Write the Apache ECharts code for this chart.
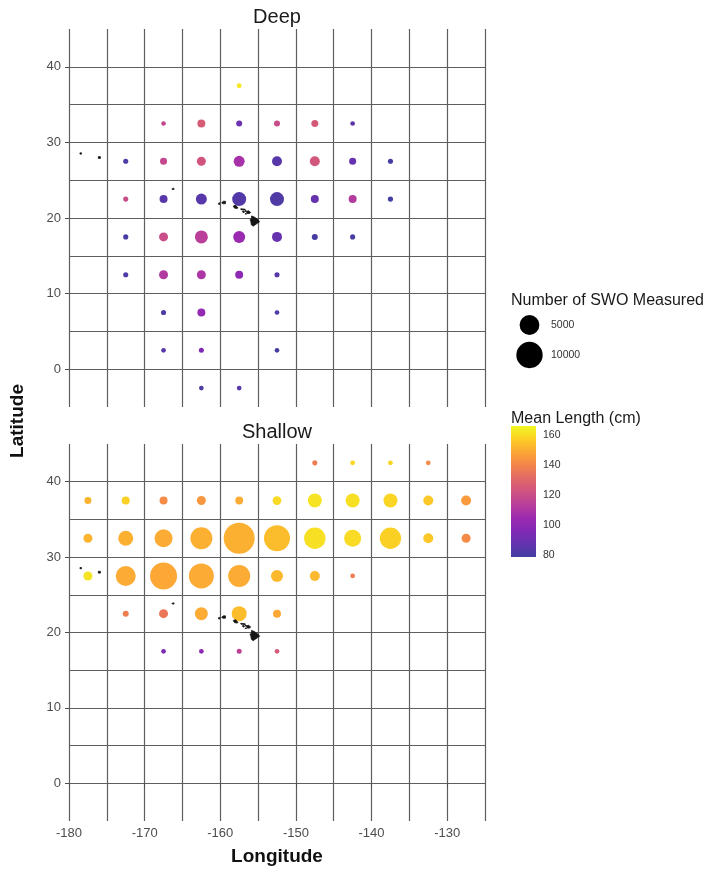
<!DOCTYPE html>
<html>
<head>
<meta charset="utf-8">
<style>
  html, body { margin: 0; padding: 0; background: #ffffff; }
  #chart { width: 709px; height: 873px; }
</style>
<script src="https://cdn.jsdelivr.net/npm/echarts@6/dist/echarts.min.js"></script>
</head>
<body>
<div id="chart"></div>
<script>
// Swordfish (SWO) size data by 5-degree cell: [longitude, latitude, number measured, mean length cm]
const deepCells = [
  [-157.5, 37.5, 15, 163],
  [-167.5, 32.5, 8, 118], [-162.5, 32.5, 320, 126], [-157.5, 32.5, 80, 90], [-152.5, 32.5, 80, 120],
  [-147.5, 32.5, 180, 125], [-142.5, 32.5, 10, 85],
  [-172.5, 27.5, 25, 82], [-167.5, 27.5, 180, 118], [-162.5, 27.5, 500, 123], [-157.5, 27.5, 980, 108],
  [-152.5, 27.5, 720, 84], [-147.5, 27.5, 720, 124], [-142.5, 27.5, 180, 88], [-137.5, 27.5, 25, 80],
  [-172.5, 22.5, 25, 120], [-167.5, 22.5, 320, 84], [-162.5, 22.5, 980, 84], [-157.5, 22.5, 2000, 83],
  [-152.5, 22.5, 2000, 82], [-147.5, 22.5, 320, 88], [-142.5, 22.5, 320, 112], [-137.5, 22.5, 30, 79],
  [-172.5, 17.5, 25, 80], [-167.5, 17.5, 500, 120], [-162.5, 17.5, 1620, 114], [-157.5, 17.5, 1280, 104],
  [-152.5, 17.5, 720, 88], [-147.5, 17.5, 80, 80], [-142.5, 17.5, 25, 80],
  [-172.5, 12.5, 25, 82], [-167.5, 12.5, 500, 112], [-162.5, 12.5, 500, 110], [-157.5, 12.5, 320, 100],
  [-152.5, 12.5, 25, 84],
  [-167.5, 7.5, 25, 82], [-162.5, 7.5, 320, 102], [-152.5, 7.5, 10, 82],
  [-167.5, 2.5, 10, 84], [-162.5, 2.5, 20, 96], [-152.5, 2.5, 10, 80],
  [-162.5, -2.5, 10, 82], [-157.5, -2.5, 10, 84]
];

const shallowCells = [
  [-147.5, 42.5, 25, 138], [-142.5, 42.5, 15, 159], [-137.5, 42.5, 15, 159], [-132.5, 42.5, 10, 142],
  [-177.5, 37.5, 180, 152], [-172.5, 37.5, 320, 158], [-167.5, 37.5, 320, 142], [-162.5, 37.5, 500, 145],
  [-157.5, 37.5, 300, 150], [-152.5, 37.5, 450, 160], [-147.5, 37.5, 2000, 162], [-142.5, 37.5, 2000, 161],
  [-137.5, 37.5, 2000, 159], [-132.5, 37.5, 720, 156], [-127.5, 37.5, 720, 146],
  [-177.5, 32.5, 500, 152], [-172.5, 32.5, 2420, 151], [-167.5, 32.5, 3930, 150], [-162.5, 32.5, 6490, 151],
  [-157.5, 32.5, 14600, 151], [-152.5, 32.5, 9700, 154], [-147.5, 32.5, 6100, 161], [-142.5, 32.5, 3390, 160],
  [-137.5, 32.5, 6000, 158], [-132.5, 32.5, 720, 156], [-127.5, 32.5, 500, 142],
  [-177.5, 27.5, 500, 162], [-172.5, 27.5, 5130, 150], [-167.5, 27.5, 10600, 149], [-162.5, 27.5, 8830, 150],
  [-157.5, 27.5, 6490, 150], [-152.5, 27.5, 1280, 153], [-147.5, 27.5, 720, 153], [-142.5, 27.5, 10, 138],
  [-172.5, 22.5, 80, 138], [-167.5, 22.5, 500, 136], [-162.5, 22.5, 1620, 150], [-157.5, 22.5, 2420, 154],
  [-152.5, 22.5, 320, 149],
  [-167.5, 17.5, 10, 95], [-162.5, 17.5, 10, 100], [-157.5, 17.5, 20, 115], [-152.5, 17.5, 10, 125]
];

// Hawaiian island outlines (lon, lat)
const islands = [
  [[-155.88, 20.27], [-155.55, 20.15], [-155.08, 19.85], [-154.8, 19.5], [-155.1, 19.3], [-155.65, 18.92],
   [-155.9, 19.1], [-155.95, 19.5], [-156.06, 19.75], [-155.85, 20.0]],
  [[-156.68, 21.02], [-156.48, 20.9], [-156.25, 20.95], [-155.98, 20.72], [-156.18, 20.58], [-156.45, 20.6],
   [-156.5, 20.78], [-156.68, 20.85]],
  [[-156.7, 20.6], [-156.55, 20.6], [-156.55, 20.5], [-156.7, 20.52]],
  [[-157.05, 20.92], [-156.85, 20.92], [-156.82, 20.75], [-157.0, 20.73]],
  [[-157.3, 21.22], [-156.9, 21.18], [-156.71, 21.16], [-156.72, 21.05], [-157.02, 21.08], [-157.26, 21.1]],
  [[-158.28, 21.58], [-157.98, 21.71], [-157.65, 21.32], [-157.85, 21.26], [-158.1, 21.3], [-158.23, 21.46]],
  [[-159.8, 22.05], [-159.55, 22.23], [-159.3, 22.2], [-159.32, 21.9], [-159.6, 21.88], [-159.78, 21.97]],
  [[-160.25, 21.95], [-160.08, 22.02], [-160.05, 21.8], [-160.2, 21.78]],
  [[-166.4, 23.85], [-166.15, 23.95], [-166.1, 23.8], [-166.3, 23.75]],
  [[-176.12, 28.12], [-175.85, 28.12], [-175.85, 27.88], [-176.12, 27.88]],
  [[-178.55, 28.62], [-178.35, 28.62], [-178.35, 28.45], [-178.55, 28.45]]
];

const lonTicks = [-180, -170, -160, -150, -140, -130];
const latTicks = [0, 10, 20, 30, 40];
const lengthTicks = [80, 100, 120, 140, 160];
const sizeBreaks = [5000, 10000];
const lengthRange = [78.7, 166.4];

// plasma colour ramp
const plasmaBase = ['#0d0887', '#41049d', '#6a00a8', '#8f0da4', '#b12a90', '#cc4778',
                    '#e16462', '#f2844b', '#fca636', '#fcce25', '#f0f921'];

// lift the dark end of the ramp a little towards white
function soften(hex, k) {
  const n = parseInt(hex.slice(1), 16);
  const ch = [(n >> 16) & 255, (n >> 8) & 255, n & 255].map(c => Math.round(c + (255 - c) * k));
  return '#' + ch.map(c => c.toString(16).padStart(2, '0')).join('');
}
const plasma = plasmaBase.map((c, i) => soften(c, Math.max(0, 0.22 * (1 - i / 7))));

const FONT = 'Liberation Sans, Arial, sans-serif';
const GRID_COLOR = '#5e5e5e';
const TICK_COLOR = '#4d4d4d';

const maxCount = Math.max(...deepCells.map(d => d[2]), ...shallowCells.map(d => d[2]));
// point diameter grows with sqrt of the count (area scale)
function pointSize(n) {
  return 4 + 27 * Math.sqrt(n / maxCount);
}

// axis carrying the 5-degree panel grid
function gridXAxis(gridIndex) {
  return {
    type: 'value', gridIndex: gridIndex, min: -180, max: -125, interval: 5, position: 'bottom',
    axisLine: { show: false }, axisTick: { show: false }, axisLabel: { show: false },
    splitLine: { show: true, showMinLine: true, showMaxLine: true,
                 lineStyle: { color: GRID_COLOR, width: 1.2 } }
  };
}
function gridYAxis(gridIndex) {
  return {
    type: 'value', gridIndex: gridIndex, min: -5, max: 45, interval: 5, position: 'left',
    axisLine: { show: false }, axisTick: { show: false }, axisLabel: { show: false },
    splitLine: { show: true, showMinLine: false, showMaxLine: false,
                 lineStyle: { color: GRID_COLOR, width: 1.2 } }
  };
}
// axes carrying the labelled ticks
function labelXAxis(gridIndex) {
  return {
    type: 'value', gridIndex: gridIndex, min: -180, max: -125, position: 'bottom',
    axisLine: { show: false }, splitLine: { show: false },
    axisTick: { show: true, customValues: lonTicks, length: 4, lineStyle: { color: TICK_COLOR } },
    axisLabel: { customValues: lonTicks, margin: 6, color: TICK_COLOR, fontSize: 13, fontFamily: FONT },
    name: 'Longitude', nameLocation: 'middle', nameGap: 26,
    nameTextStyle: { fontSize: 19, fontWeight: 'bold', color: '#111', fontFamily: FONT }
  };
}
function labelYAxis(gridIndex) {
  return {
    type: 'value', gridIndex: gridIndex, min: -5, max: 45, position: 'left',
    axisLine: { show: false }, splitLine: { show: false },
    axisTick: { show: true, customValues: latTicks, length: 4, lineStyle: { color: TICK_COLOR } },
    axisLabel: { customValues: latTicks, margin: 8, color: TICK_COLOR, fontSize: 13, fontFamily: FONT }
  };
}

function islandSeries(gridIndex) {
  return {
    type: 'custom', xAxisIndex: gridIndex, yAxisIndex: gridIndex, z: 3,
    data: islands.map(s => s[0]),
    renderItem: function (params, api) {
      const pts = islands[params.dataIndex].map(p => api.coord(p));
      return {
        type: 'polygon',
        shape: { points: pts },
        style: { fill: '#141414', stroke: '#141414', lineWidth: 0.8 }
      };
    }
  };
}

function cellSeries(gridIndex, cells) {
  return {
    type: 'scatter', xAxisIndex: gridIndex, yAxisIndex: gridIndex, z: 2,
    data: cells,
    symbol: 'circle',
    symbolSize: v => pointSize(v[2]),
    itemStyle: { opacity: 1 },
    emphasis: { disabled: true }
  };
}

const chart = echarts.init(document.getElementById('chart'), null, { renderer: 'canvas' });

chart.setOption({
  backgroundColor: '#ffffff',
  animation: false,
  grid: [
    { left: 69, top: 29, width: 416, height: 378 },
    { left: 69, top: 444, width: 416, height: 377 },
    { left: 511, top: 310, width: 37, height: 60 },
    { left: 511, top: 426, width: 25, height: 131 }
  ],
  xAxis: [
    gridXAxis(0),                                                   // 0
    gridXAxis(1),                                                   // 1
    labelXAxis(1),                                                  // 2
    { type: 'value', gridIndex: 2, min: 0, max: 1, show: false },   // 3
    { type: 'value', gridIndex: 3, min: 0, max: 1, show: false }    // 4
  ],
  yAxis: [
    gridYAxis(0),                                                   // 0
    gridYAxis(1),                                                   // 1
    labelYAxis(0),                                                  // 2
    labelYAxis(1),                                                  // 3
    {                                                               // 4
      type: 'category', gridIndex: 2, inverse: true, position: 'right',
      data: sizeBreaks.map(String),
      axisLine: { show: false }, axisTick: { show: false }, splitLine: { show: false },
      axisLabel: { margin: 3, color: '#333', fontSize: 10.5, fontFamily: FONT }
    },
    {                                                               // 5
      type: 'value', gridIndex: 3, position: 'right', min: lengthRange[0], max: lengthRange[1],
      axisLine: { show: false }, splitLine: { show: false },
      axisTick: { show: true, inside: true, length: 5, customValues: lengthTicks,
                  lineStyle: { color: '#ffffff', width: 1 } },
      axisLabel: { customValues: lengthTicks, margin: 7, color: '#333', fontSize: 10.5, fontFamily: FONT }
    },
    {                                                               // 6
      type: 'value', gridIndex: 3, position: 'left', min: lengthRange[0], max: lengthRange[1],
      axisLine: { show: false }, splitLine: { show: false },
      axisTick: { show: true, inside: true, length: 5, customValues: lengthTicks,
                  lineStyle: { color: '#ffffff', width: 1 } },
      axisLabel: { show: false }
    }
  ],
  visualMap: [{
    type: 'continuous', show: false, seriesIndex: [0, 2],
    dimension: 3, min: lengthRange[0], max: lengthRange[1],
    inRange: { color: plasma }
  }],
  series: [
    cellSeries(0, deepCells),
    islandSeries(0),
    cellSeries(1, shallowCells),
    islandSeries(1),
    {
      // size key
      type: 'scatter', xAxisIndex: 3, yAxisIndex: 4,
      data: sizeBreaks.map(b => [0.5, String(b), b]),
      symbolSize: v => pointSize(v[2]),
      itemStyle: { color: '#000000', opacity: 1 },
      emphasis: { disabled: true }
    },
    {
      // colour bar
      type: 'custom', xAxisIndex: 4, yAxisIndex: 5, z: 1,
      data: [[0, lengthRange[0]]],
      renderItem: function (params, api) {
        const tl = api.coord([0, lengthRange[1]]);
        const br = api.coord([1, lengthRange[0]]);
        const stops = plasma.map((c, i) => ({ offset: 1 - i / (plasma.length - 1), color: c })).reverse();
        return {
          type: 'rect',
          shape: { x: tl[0], y: tl[1], width: br[0] - tl[0], height: br[1] - tl[1] },
          style: { fill: new echarts.graphic.LinearGradient(0, 0, 0, 1, stops) }
        };
      }
    }
  ],
  graphic: [
    { type: 'text', x: 277, y: 17, z: 10,
      style: { text: 'Deep', font: '20px ' + FONT, fill: '#1a1a1a',
               align: 'center', verticalAlign: 'middle', textAlign: 'center', textVerticalAlign: 'middle' } },
    { type: 'text', x: 277, y: 432, z: 10,
      style: { text: 'Shallow', font: '20px ' + FONT, fill: '#1a1a1a',
               align: 'center', verticalAlign: 'middle', textAlign: 'center', textVerticalAlign: 'middle' } },
    { type: 'text', x: 18, y: 421, rotation: Math.PI / 2, z: 10,
      style: { text: 'Latitude', font: 'bold 19px ' + FONT, fill: '#111',
               align: 'center', verticalAlign: 'middle', textAlign: 'center', textVerticalAlign: 'middle' } },
    { type: 'text', x: 511, y: 301, z: 10,
      style: { text: 'Number of SWO Measured', font: '16px ' + FONT, fill: '#1a1a1a',
               align: 'left', verticalAlign: 'middle', textAlign: 'left', textVerticalAlign: 'middle' } },
    { type: 'text', x: 511, y: 419, z: 10,
      style: { text: 'Mean Length (cm)', font: '16px ' + FONT, fill: '#1a1a1a',
               align: 'left', verticalAlign: 'middle', textAlign: 'left', textVerticalAlign: 'middle' } }
  ]
});
</script>
</body>
</html>
